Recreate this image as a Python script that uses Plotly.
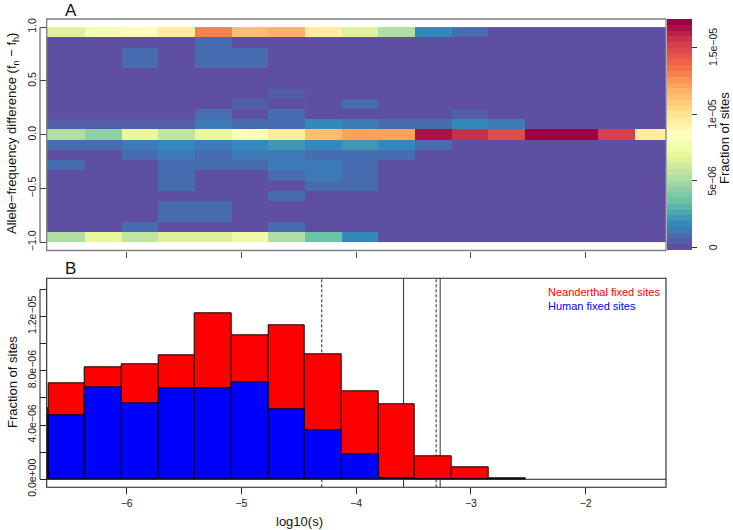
import plotly.graph_objects as go

W, H = 733, 530

# ---------------- data ----------------
# log10(s) bin edges (shared by heatmap columns and histogram bars)
bin_edges = [-7.003, -6.683, -6.363, -6.044, -5.724, -5.404, -5.084, -4.765, -4.445,
             -4.125, -3.806, -3.486, -3.166, -2.847, -2.527, -2.207, -1.888, -1.568, -1.248]
# allele-frequency difference bin edges (21 rows from -1 to 1)
freq_edges = [-1.0, -0.905, -0.810, -0.714, -0.619, -0.524, -0.429, -0.333, -0.238, -0.143,
              -0.048, 0.048, 0.143, 0.238, 0.333, 0.429, 0.524, 0.619, 0.714, 0.810, 0.905, 1.0]

# heatmap values, fraction of sites (x 1e-6); rows listed from top (f~1) to bottom (f~-1)
heat_rows_top_down = [
    [6.0, 6.3, 8.0, 8.5, 9.7, 13.1, 11.4, 11.9, 9.7, 6.3, 5.3, 1.8, 1.0, 0, 0, 0, 0, 0],
    [0, 0, 0, 0, 0, 0.8, 0, 0, 0, 0, 0, 0, 0, 0, 0, 0, 0, 0],
    [0, 0, 0, 0.8, 0, 0.8, 0.8, 0, 0, 0, 0, 0, 0, 0, 0, 0, 0, 0],
    [0, 0, 0, 0.8, 0, 0.8, 0.8, 0, 0, 0, 0, 0, 0, 0, 0, 0, 0, 0],
    [0, 0, 0, 0, 0, 0, 0, 0, 0, 0, 0, 0, 0, 0, 0, 0, 0, 0],
    [0, 0, 0, 0, 0, 0, 0, 0, 0, 0, 0, 0, 0, 0, 0, 0, 0, 0],
    [0, 0, 0, 0, 0, 0, 0, 0.6, 0, 0, 0, 0, 0, 0, 0, 0, 0, 0],
    [0, 0, 0, 0, 0, 0, 0.6, 0, 0, 0.7, 0, 0, 0, 0, 0, 0, 0, 0],
    [0, 0, 0, 0, 0, 0.7, 0, 0.7, 0, 0, 0, 0, 0.6, 0, 0, 0, 0, 0],
    [0.6, 0.6, 0.6, 0.6, 0.6, 1.2, 0.8, 0.9, 1.8, 1.4, 0.8, 0.7, 1.8, 1.1, 0, 0, 0, 0],
    [5.1, 5.1, 4.3, 7.0, 5.6, 7.0, 8.3, 9.7, 11.3, 12.2, 12.2, 16.3, 15.6, 14.8, 17.0, 17.0, 15.1, 9.7],
    [0.8, 0.8, 0.8, 1.2, 1.7, 1.2, 1.8, 2.3, 1.7, 2.3, 1.8, 0.7, 0, 0, 0, 0, 0, 0],
    [0, 0, 0, 0.7, 1.1, 0.7, 1.1, 1.1, 0.7, 0.9, 0.8, 0, 0, 0, 0, 0, 0, 0],
    [0.8, 0.8, 0, 0, 0.8, 0.8, 0.8, 1.1, 1.1, 0.8, 0, 0, 0, 0, 0, 0, 0, 0],
    [0, 0, 0, 0, 0.8, 0, 0, 1.0, 1.1, 0.8, 0, 0, 0, 0, 0, 0, 0, 0],
    [0, 0, 0, 0, 0.8, 0, 0, 0, 0.7, 0.7, 0, 0, 0, 0, 0, 0, 0, 0],
    [0, 0, 0, 0, 0, 0, 0, 0.7, 0, 0, 0, 0, 0, 0, 0, 0, 0, 0],
    [0, 0, 0, 0, 0.8, 0.8, 0, 0, 0, 0, 0, 0, 0, 0, 0, 0, 0, 0],
    [0, 0, 0, 0, 0.8, 0.8, 0, 0, 0, 0, 0, 0, 0, 0, 0, 0, 0, 0],
    [0.9, 0, 0, 0.8, 0, 0, 0, 0.7, 0, 0, 0, 0, 0, 0, 0, 0, 0, 0],
    [5.3, 5.2, 6.8, 5.5, 6.7, 6.7, 7.4, 5.1, 3.4, 1.8, 0, 0, 0, 0, 0, 0, 0, 0],
]

# histogram (x 1e-6) for the first 14 bins
neanderthal_fixed = [5.2, 7.1, 8.25, 8.5, 9.1, 12.25, 10.6, 11.35, 9.2, 6.5, 5.5, 1.7, 0.85, 0.07]
human_fixed = [4.7, 4.74, 6.78, 5.6, 6.73, 6.73, 7.15, 5.13, 3.63, 1.86, 0.07, 0, 0, 0]

# reference lines (log10(s))
dashed_lines = [-4.30, -3.303]
solid_lines = [-3.587, -3.268]

x_ticks = [-6, -5, -4, -3, -2]
x_tick_text = ["\u22126", "\u22125", "\u22124", "\u22123", "\u22122"]
yA_ticks = [-1.0, -0.5, 0.0, 0.5, 1.0]
yA_tick_text = ["\u22121.0", "\u22120.5", "0.0", "0.5", "1.0"]
yB_ticks = [0, 4e-6, 8e-6, 1.2e-5]
yB_tick_text = ["0.0e+00", "4.0e\u221206", "8.0e\u221206", "1.2e\u221205"]
yB_minor_step = 2e-6
cb_ticks = [0, 5e-6, 1e-5, 1.5e-5]
cb_tick_text = ["0", "5e\u221206", "1e\u221205", "1.5e\u221205"]

# ---------------- styling helpers ----------------
FONT = "Liberation Sans, Arial, Helvetica, sans-serif"
spectral = ["#5E4FA2", "#3288BD", "#66C2A5", "#ABDDA4", "#E6F598", "#FFFFBF",
            "#FEE08B", "#FDAE61", "#F46D43", "#D53E4F", "#9E0142"]


def hex2rgb(h):
    h = h.lstrip("#")
    return [int(h[i:i + 2], 16) for i in (0, 2, 4)]


def ramp(n):
    out = []
    for i in range(n):
        p = i / (n - 1) * (len(spectral) - 1)
        k = min(int(p), len(spectral) - 2)
        f = p - k
        a, b = hex2rgb(spectral[k]), hex2rgb(spectral[k + 1])
        c = [round(a[j] + (b[j] - a[j]) * f) for j in range(3)]
        out.append("rgb(%d,%d,%d)" % tuple(c))
    return out


NLEV = 40
levels = ramp(NLEV)
colorscale = []
for i, c in enumerate(levels):
    colorscale.append([i / NLEV, c])
    colorscale.append([(i + 1) / NLEV, c])

z = [[v * 1e-6 for v in row] for row in reversed(heat_rows_top_down)]
zlo, zhi = -0.217e-6, 17.12e-6

n_bins = len(neanderthal_fixed)
centers = [(bin_edges[i] + bin_edges[i + 1]) / 2 for i in range(n_bins)]
widths = [bin_edges[i + 1] - bin_edges[i] for i in range(n_bins)]
red_vals = [v * 1e-6 for v in neanderthal_fixed]
blue_vals = [v * 1e-6 for v in human_fixed]


def px_x(p):
    return p / W


def px_y(p):
    return 1 - p / H


xdom = [px_x(46.7), px_x(666)]
xrange_ = [-6.697, -1.30]

# colorbar geometry (pixels)
CB_TOP, CB_BOT = 19.3, 250.7

fig = go.Figure()
fig.add_trace(go.Heatmap(
    x=bin_edges, y=freq_edges, z=z, colorscale=colorscale, zmin=zlo, zmax=zhi,
    xaxis="x", yaxis="y", hoverinfo="skip",
    colorbar=dict(x=px_x(667.3), xanchor="left", y=px_y(CB_TOP), yanchor="top",
                  len=(CB_BOT - CB_TOP) / H, lenmode="fraction", thickness=25.4,
                  thicknessmode="pixels", xpad=0, ypad=0, outlinewidth=0,
                  tickvals=cb_ticks, showticklabels=False,
                  ticks="outside", ticklen=5, tickcolor="#333"),
))
fig.add_trace(go.Bar(x=centers, y=red_vals, width=widths, xaxis="x2", yaxis="y2",
                     marker=dict(color="#FF0000", line=dict(color="#1a0000", width=1)),
                     showlegend=False, hoverinfo="skip"))
fig.add_trace(go.Bar(x=centers, y=blue_vals, width=widths, xaxis="x2", yaxis="y2",
                     marker=dict(color="#0000FF", line=dict(color="#00001a", width=1)),
                     showlegend=False, hoverinfo="skip"))

shapes = [
    dict(type="rect", xref="x domain", yref="y domain", x0=0, x1=1, y0=0, y1=1,
         line=dict(color="#808080", width=1.3)),
    dict(type="rect", xref="x2 domain", yref="y2 domain", x0=0, x1=1, y0=0, y1=1,
         line=dict(color="#222", width=1.1)),
    dict(type="line", xref="paper", yref="y", x0=px_x(40), x1=px_x(40), y0=-1, y1=1,
         line=dict(color="#444", width=1)),
    dict(type="line", xref="paper", yref="y2", x0=px_x(40), x1=px_x(40), y0=0, y1=1.4e-5,
         line=dict(color="#222", width=1)),
    dict(type="line", xref="x2 domain", yref="y2", x0=0, x1=1, y0=0, y1=0,
         line=dict(color="#222", width=1)),
]
for xv in dashed_lines:
    shapes.append(dict(type="line", xref="x2", yref="y2 domain", x0=xv, x1=xv, y0=0, y1=1,
                       layer="below", line=dict(color="#222", width=1, dash="3px,2px")))
for xv in solid_lines:
    shapes.append(dict(type="line", xref="x2", yref="y2 domain", x0=xv, x1=xv, y0=0, y1=1,
                       layer="below", line=dict(color="#333", width=1)))


def ann(text, x, y, size, color="#111", angle=0, xanchor="center", yanchor="middle"):
    return dict(text=text, x=px_x(x), y=px_y(y), xref="paper", yref="paper", showarrow=False,
                font=dict(size=size, color=color, family=FONT), textangle=angle,
                xanchor=xanchor, yanchor=yanchor)


annotations = [
    ann("A", 63, 11, 17, xanchor="left"),
    ann("B", 63, 268.5, 17, xanchor="left"),
    ann("Allele\u2212frequency difference (f<sub>n</sub> \u2212 f<sub>h</sub>)", 13, 134, 13, angle=-90),
    ann("Fraction of sites", 12.5, 382.5, 13, angle=-90),
    ann("log10(s)", 299, 521.5, 13),
    ann("Fraction of sites", 725, 138, 13, angle=-90),
    ann("Neanderthal fixed sites", 545.7, 292.3, 11, color="#FF0000", xanchor="left"),
    ann("Human fixed sites", 545.7, 305.7, 11, color="#0000FF", xanchor="left"),
]
# colorbar tick labels, placed along the colorbar's value scale
for v, t in zip(cb_ticks, cb_tick_text):
    ypix = CB_BOT - (v - zlo) / (zhi - zlo) * (CB_BOT - CB_TOP)
    annotations.append(ann(t, 712.5, ypix, 10.5, color="#222", angle=-90))

axis_common = dict(showgrid=False, zeroline=False, showline=False, ticks="outside",
                   automargin=False, tickfont=dict(size=10.5, color="#222", family=FONT))

fig.update_layout(
    template="none",
    width=W, height=H, margin=dict(l=0, r=0, t=0, b=0, autoexpand=False),
    paper_bgcolor="white", plot_bgcolor="white", barmode="overlay", bargap=0,
    font=dict(family=FONT, color="#111"),
    showlegend=False,
    xaxis=dict(domain=xdom, range=xrange_, anchor="y", tickvals=x_ticks, showticklabels=False,
               ticklen=6, tickcolor="#555", **axis_common),
    yaxis=dict(domain=[px_y(250.5), px_y(19)], range=[-1.075, 1.075], anchor="free",
               position=px_x(45.5), tickvals=yA_ticks, ticktext=yA_tick_text, tickangle=-90,
               ticklen=5.5, tickcolor="#444", **axis_common),
    xaxis2=dict(domain=xdom, range=xrange_, anchor="y2", tickvals=x_ticks, ticktext=x_tick_text,
                ticklen=6, tickcolor="#222", **axis_common),
    yaxis2=dict(domain=[px_y(487.3), px_y(278.3)], range=[-0.59e-6, 14.81e-6], anchor="free",
                position=px_x(45.5), tickvals=yB_ticks, ticktext=yB_tick_text, tickangle=-90,
                ticklen=5.5, tickcolor="#222",
                minor=dict(tick0=0, dtick=yB_minor_step, ticks="outside", ticklen=5.5,
                           tickcolor="#222", showgrid=False),
                **axis_common),
    shapes=shapes,
    annotations=annotations,
)

fig.write_html("out.html", config={"displayModeBar": False},
               post_script="document.body.style.margin='0px';document.body.style.overflow='hidden';")
